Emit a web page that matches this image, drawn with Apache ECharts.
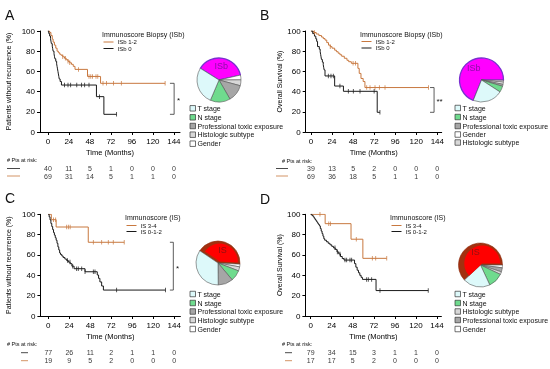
<!DOCTYPE html>
<html><head><meta charset="utf-8">
<script src="https://cdn.jsdelivr.net/npm/echarts@6/dist/echarts.min.js"></script>
<style>html,body{margin:0;padding:0;background:#fff}#c{width:550px;height:369px;will-change:transform}</style>
</head><body><div id="c"></div>
<script>
// ---------- shared ticks ----------
const months = [0, 24, 48, 72, 96, 120, 144];

// ---------- Panel A : ISb, recurrence ----------
const A_hi_t = [0, 2, 3.5, 5, 6, 7.5, 9, 10.5, 12, 13.5, 15, 17, 19, 21, 23, 25, 27, 29, 31, 45.3, 60.2, 134];
const A_hi_s = [100, 98.5, 95.5, 92, 89, 86, 83, 80, 78.5, 77, 76, 74.5, 73, 71.5, 70, 68.5, 67, 65, 62, 55, 48.2, 48.2];
const A_hi_c = [17, 20, 23, 25, 35, 47, 49, 51, 55, 57, 63, 67, 75, 84, 134];
const A_lo_t = [0, 1, 2, 3, 3.5, 4, 5, 5.5, 6, 7, 7.5, 8, 9, 10, 10.5, 11, 11.5, 12, 12.5, 13, 14, 15.5, 55.5, 64, 78.5];
const A_lo_s = [100, 97.5, 95, 92.5, 90, 87.5, 85, 82.5, 80, 77.5, 75, 72.5, 70, 67.5, 65, 62.5, 60, 57.5, 55, 52.5, 50, 46.5, 35, 17.5, 17.5];
const A_lo_c = [19, 23, 26, 33, 38.5, 42, 47, 59, 78.5];
const riskA_1 = [40, 11, 5, 1, 0, 0, 0];
const riskA_2 = [69, 31, 14, 5, 1, 1, 0];
const pieA_names = ['ISb', 'Gender', 'Histologic subtype', 'Professional toxic exposure', 'N stage', 'T stage'];
const pieA_values = [37.5, 3.5, 4.3, 12.5, 14.7, 27.5];
const legA = ['T stage', 'N stage', 'Professional toxic exposure', 'Histologic subtype', 'Gender'];

// ---------- Panel B : ISb, overall survival ----------
const B_hi_t = [0, 3, 6, 9, 12, 14, 16, 18, 20, 22, 24, 27, 29, 31, 33, 35, 38, 41, 43, 46, 53.5, 55, 57, 59.5, 61.5, 134];
const B_hi_s = [100, 98.5, 97, 95.5, 94, 92.5, 91, 88.5, 86, 84.5, 83, 81, 79.5, 78, 76.5, 75, 73, 71, 69.6, 68, 63, 58, 53, 50, 44, 44];
const B_hi_c = [4, 22, 48, 50.7, 63.5, 67.3, 73, 78, 84.4, 134];
const B_lo_t = [0, 2, 4, 5.5, 6.5, 7.5, 9.5, 10.5, 11, 11.5, 12, 13, 14, 14.5, 15, 16, 27, 37, 75.5, 78.6];
const B_lo_s = [100, 97.4, 94.9, 92.3, 89.7, 84.6, 82, 79.5, 76.9, 74.4, 71.8, 69.2, 66.7, 64.1, 61.5, 55.5, 45.5, 40.3, 19.5, 19.5];
const B_lo_c = [19.8, 22.8, 25.5, 33, 42.6, 48.3, 55.9, 72, 78.6];
const riskB_1 = [39, 13, 5, 2, 0, 0, 0];
const riskB_2 = [69, 36, 18, 5, 1, 1, 0];
const pieB_names = ['ISb', 'Histologic subtype', 'Gender', 'Professional toxic exposure', 'N stage', 'T stage'];
const pieB_values = [69, 1.5, 1.5, 1.5, 4.5, 22];
const legB = ['T stage', 'N stage', 'Professional toxic exposure', 'Gender', 'Histologic subtype'];

// ---------- Panel C : IS, recurrence ----------
const C_hi_t = [0, 3.5, 9, 45.7, 86.8];
const C_hi_s = [100, 94.7, 87.5, 72.5, 72.5];
const C_hi_c = [6, 8.4, 21, 23, 25, 51.5, 61, 68.6, 74.3, 86.8];
const C_lo_t = [0, 1, 2, 3, 4, 5, 6, 7, 8, 9, 10, 11, 12, 13, 14, 15.5, 17, 19, 21, 23, 25, 27, 29.5, 42, 56, 57.5, 59, 61, 63, 134];
const C_lo_s = [100, 97.5, 94.5, 91, 88, 85, 82, 79.5, 77, 74.5, 71.5, 68, 65, 62, 60.5, 59, 57.5, 56, 54.5, 53, 51.5, 49, 46.5, 43.5, 40.3, 37, 33.5, 29.5, 25.5, 25.5];
const C_lo_c = [22, 24.8, 27.9, 32.4, 34.3, 38.2, 42, 51.5, 53.4, 78.1, 134];
const riskC_1 = [77, 26, 11, 2, 1, 1, 0];
const riskC_2 = [19, 9, 5, 2, 0, 0, 0];
const pieC_names = ['IS', 'Gender', 'Histologic subtype', 'N stage', 'Professional toxic exposure', 'T stage'];
const pieC_values = [41.4, 2, 3, 8, 11, 34.6];
const legC = ['T stage', 'N stage', 'Professional toxic exposure', 'Histologic subtype', 'Gender'];

// ---------- Panel D : IS, overall survival ----------
const D_hi_t = [0, 16.5, 46, 59.5, 86.7];
const D_hi_s = [100, 90.8, 75.5, 56.7, 56.7];
const D_hi_c = [10.6, 20.6, 22.5, 52, 70.3, 74.1, 86.7];
const D_lo_t = [0, 1.5, 3, 4, 5, 6, 7, 8, 9, 10, 11, 12, 13, 14, 15, 16, 18, 20, 22, 24, 26, 28, 30, 32, 34, 36, 38, 50, 51.5, 53, 54.5, 56, 57.5, 59, 74.5, 134];
const D_lo_s = [100, 98.7, 97.5, 96.2, 94.9, 93.7, 92.4, 91.1, 89.9, 88.6, 86, 83.5, 81, 78.5, 76, 74.5, 73, 71.5, 70, 68.5, 67, 65.5, 63, 61, 58.5, 56.5, 55, 51.5, 48, 45, 42.5, 40, 38, 36, 25, 25];
const D_lo_c = [27.7, 30.4, 33.4, 39.1, 41, 44.8, 46.7, 63.8, 65.7, 69.5, 79, 134];
const riskD_1 = [79, 34, 15, 3, 1, 1, 0];
const riskD_2 = [17, 17, 5, 2, 0, 0, 0];
const pieD_names = ['IS', 'Gender', 'Professional toxic exposure', 'Histologic subtype', 'N stage', 'T stage'];
const pieD_values = [62, 2, 3, 2, 11, 20];
const legD = ['T stage', 'N stage', 'Histologic subtype', 'Professional toxic exposure', 'Gender'];

// ---------- styles ----------
const FONT = 'Liberation Sans, Arial, Helvetica, sans-serif';
const ORANGE = '#C8783F';
const BLACK = '#1a1a1a';
const sliceColors = {
  'T stage': '#DDF9FA', 'N stage': '#6FDB8E', 'Professional toxic exposure': '#A6A6A6',
  'Histologic subtype': '#D8D8D8', 'Gender': '#FFFFFF', 'ISb': '#FF00FF', 'IS': '#A3300F'
};

function survAt(ts, ss, t) { let v = ss[0]; for (let i = 0; i < ts.length; i++) { if (ts[i] <= t) v = ss[i]; } return v; }
const last = a => a[a.length - 1];

const panels = [
  { grid: {left: 40, top: 31, width: 140, height: 101}, xmin: -9, xmax: 151, yName: 'Patients without recurrence (%)', yGap: 28,
    hi: [A_hi_t, A_hi_s, A_hi_c], lo: [A_lo_t, A_lo_s, A_lo_c], risk: [riskA_1, riskA_2], riskTop: 164,
    bracket: {x0: 139.5, x1: 144.3} },
  { grid: {left: 305.7, top: 31, width: 136, height: 101}, xmin: -6, xmax: 149, yName: 'Overall Survival (%)', yGap: 22,
    hi: [B_hi_t, B_hi_s, B_hi_c], lo: [B_lo_t, B_lo_s, B_lo_c], risk: [riskB_1, riskB_2], riskTop: 164,
    bracket: {x0: 135.7, x1: 140.3} },
  { grid: {left: 40.4, top: 214.3, width: 140, height: 101.7}, xmin: -9, xmax: 151, yName: 'Patients without recurrence (%)', yGap: 28,
    hi: [C_hi_t, C_hi_s, C_hi_c], lo: [C_lo_t, C_lo_s, C_lo_c], risk: [riskC_1, riskC_2], riskTop: 348.7,
    bracket: {x0: 139, x1: 142.9} },
  { grid: {left: 305.4, top: 214.3, width: 136, height: 101.7}, xmin: -6, xmax: 149, yName: 'Overall Survival (%)', yGap: 22,
    hi: [D_hi_t, D_hi_s, D_hi_c], lo: [D_lo_t, D_lo_s, D_lo_c], risk: [riskD_1, riskD_2], riskTop: 348.7,
    bracket: null }
];

const grid = [], xAxis = [], yAxis = [], series = [];
panels.forEach((p, i) => {
  grid.push(Object.assign({containLabel: false}, p.grid));
  xAxis.push({
    type: 'value', gridIndex: i, min: p.xmin, max: p.xmax,
    axisLine: {show: true, onZero: false, lineStyle: {color: '#000', width: 1}},
    axisTick: {show: true, customValues: months, length: 3, lineStyle: {color: '#000', width: 1}},
    axisLabel: {customValues: months, fontSize: 8, color: '#000', margin: 5, fontFamily: FONT},
    splitLine: {show: false},
    name: 'Time (Months)', nameLocation: 'middle', nameGap: 16,
    nameTextStyle: {fontSize: 7.5, color: '#000', fontFamily: FONT}
  });
  yAxis.push({
    type: 'value', gridIndex: i, min: 0, max: 100, interval: 20,
    axisLine: {show: true, onZero: false, lineStyle: {color: '#000', width: 1}},
    axisTick: {show: true, length: 3, lineStyle: {color: '#000', width: 1}},
    axisLabel: {fontSize: 8, color: '#000', margin: 5, fontFamily: FONT},
    splitLine: {show: false},
    name: p.yName, nameLocation: 'middle', nameGap: p.yGap,
    nameTextStyle: {fontSize: 7, color: '#000', fontFamily: FONT}
  });
  [[p.hi, ORANGE], [p.lo, BLACK]].forEach(([c, col]) => {
    series.push({
      type: 'line', xAxisIndex: i, yAxisIndex: i, step: 'end', symbol: 'none', silent: true,
      data: c[0].map((t, k) => [t, c[1][k]]), lineStyle: {color: col, width: 1}, z: 3
    });
    series.push({
      type: 'scatter', xAxisIndex: i, yAxisIndex: i, symbol: 'rect', symbolSize: [0.9, 4.5], silent: true,
      data: c[2].map(t => [t, survAt(c[0], c[1], t)]), itemStyle: {color: col}, z: 4
    });
  });
  if (p.bracket) {
    const top = last(p.hi[1]), bot = last(p.lo[1]);
    series.push({
      type: 'line', xAxisIndex: i, yAxisIndex: i, symbol: 'none', silent: true,
      data: [[p.bracket.x0, top], [p.bracket.x1, top], [p.bracket.x1, bot], [p.bracket.x0, bot]],
      lineStyle: {color: '#333', width: 0.8}
    });
  }
});
// risk table grids
panels.forEach((p, i) => {
  const gi = 4 + i;
  grid.push({left: p.grid.left, width: p.grid.width, top: p.riskTop, height: 16});
  xAxis.push({type: 'value', gridIndex: gi, min: p.xmin, max: p.xmax, show: false});
  yAxis.push({type: 'value', gridIndex: gi, min: 0, max: 2, show: false});
  [[p.risk[0], 1.5], [p.risk[1], 0.5]].forEach(([row, yv]) => {
    series.push({
      type: 'scatter', xAxisIndex: gi, yAxisIndex: gi, symbolSize: 1, silent: true,
      itemStyle: {color: 'rgba(0,0,0,0)'},
      data: months.map((m, j) => [m, yv, row[j]]),
      label: {show: true, position: 'inside', formatter: q => String(q.value[2]), fontSize: 7, color: '#000', fontFamily: FONT}
    });
  });
});

// pies
function pieItems(names, values, isLabelOnly, transparentExceptKey, keyColor) {
  return names.map((n, k) => {
    const key = (n === 'ISb' || n === 'IS');
    let style;
    if (transparentExceptKey) {
      style = key ? {color: keyColor, borderWidth: 0} : {color: 'rgba(0,0,0,0)', borderWidth: 0};
    } else if (isLabelOnly) {
      style = {color: 'rgba(0,0,0,0)', borderWidth: 0};
    } else {
      style = {color: sliceColors[n], borderColor: n === 'ISb' ? '#7A2FD0' : (n === 'IS' ? '#8A2A0C' : '#555'), borderWidth: n === 'ISb' ? 1.3 : 0.6};
    }
    return {
      name: n, value: values[k], itemStyle: style,
      label: (isLabelOnly && key) ? {show: true, position: 'inside', formatter: '{b}', fontSize: 9, fontFamily: FONT,
        color: n === 'ISb' ? '#8B0FA8' : '#8E1010'} : {show: false}
    };
  });
}
const pies = [
  {c: [219, 80], sa: 148, names: pieA_names, values: pieA_values, inner: false},
  {c: [481.5, 80], sa: 248, names: pieB_names, values: pieB_values, inner: false},
  {c: [218, 263], sa: 146, names: pieC_names, values: pieC_values, inner: true},
  {c: [480.5, 265], sa: 223, names: pieD_names, values: pieD_values, inner: true}
];
pies.forEach(pp => {
  const base = {type: 'pie', radius: [0, 22], startAngle: pp.sa, clockwise: true, silent: true,
    avoidLabelOverlap: false, labelLine: {show: false}, emphasis: {disabled: true}, minAngle: 0};
  series.push(Object.assign({}, base, {center: pp.c, z: 2, data: pieItems(pp.names, pp.values, false, false)}));
  if (pp.inner) {
    series.push(Object.assign({}, base, {center: [pp.c[0] + 1.8, pp.c[1] - 1.5], radius: [0, 18], z: 3,
      data: pieItems(pp.names, pp.values, false, true, '#FF0000')}));
  }
  series.push(Object.assign({}, base, {center: pp.c, z: 4, data: pieItems(pp.names, pp.values, true, false)}));
});

// graphic: legends, letters, risk keys, stars
const g = [];
function txt(x, y, s, size, opts) {
  g.push(Object.assign({type: 'text', x: x, y: y, silent: true,
    style: Object.assign({text: s, fontSize: size, fontFamily: FONT, fill: '#111', verticalAlign: 'middle', align: 'left'}, opts || {})}));
}
function ln(x1, y1, x2, y2, col, w) {
  g.push({type: 'line', silent: true, shape: {x1, y1, x2, y2}, style: {stroke: col, lineWidth: w || 1}});
}
// panel letters
txt(5, 15, 'A', 14); txt(260, 15, 'B', 14); txt(5, 198, 'C', 14); txt(260, 199, 'D', 14);
// KM legends
const kmLeg = [
  {x: 102, ty: 34, y1: 42, y2: 48.5, title: 'Immunoscore Biopsy (ISb)', n1: 'ISb 1-2', n2: 'ISb 0'},
  {x: 360, ty: 34, y1: 41.5, y2: 48, title: 'Immunoscore Biopsy (ISb)', n1: 'ISb 1-2', n2: 'ISb 0'},
  {x: 125, ty: 217.5, y1: 225.5, y2: 231.5, title: 'Immunoscore (IS)', n1: 'IS 3-4', n2: 'IS 0-1-2'},
  {x: 390, ty: 217.5, y1: 225.5, y2: 231.5, title: 'Immunoscore (IS)', n1: 'IS 3-4', n2: 'IS 0-1-2'}
];
kmLeg.forEach(l => {
  txt(l.x, l.ty, l.title, 7);
  ln(l.x + 1.5, l.y1, l.x + 11.5, l.y1, ORANGE, 1);
  ln(l.x + 1.5, l.y2, l.x + 11.5, l.y2, BLACK, 1);
  txt(l.x + 15.5, l.y1, l.n1, 6);
  txt(l.x + 15.5, l.y2, l.n2, 6);
});
// stars
txt(178.5, 100, '*', 8, {align: 'center'});
txt(439.5, 101, '**', 8, {align: 'center'});
txt(177.5, 268, '*', 8, {align: 'center'});
// pie legends
const pieLeg = [
  {x: 190, ys: [108.3, 117.3, 126, 134.7, 143.7], names: legA},
  {x: 455, ys: [108, 117, 126, 134.5, 142.5], names: legB},
  {x: 190, ys: [294, 303, 311.5, 320, 329], names: legC},
  {x: 455, ys: [294, 303, 311.5, 320, 329], names: legD}
];
pieLeg.forEach(pl => {
  pl.names.forEach((n, k) => {
    g.push({type: 'rect', silent: true, shape: {x: pl.x, y: pl.ys[k] - 2.75, width: 5.5, height: 5.5},
      style: {fill: sliceColors[n], stroke: '#333', lineWidth: 0.7}});
    txt(pl.x + 7.5, pl.ys[k], n, 7);
  });
});
// risk table headers and keys
const riskKeys = [
  {x: 7, hy: 160, lx1: 7, lx2: 20, y1: 168.5, y2: 176},
  {x: 282, hy: 161, lx1: 276, lx2: 288, y1: 168.5, y2: 176},
  {x: 7, hy: 344.3, lx1: 21, lx2: 28, y1: 352.7, y2: 360.7},
  {x: 282, hy: 344.3, lx1: 285, lx2: 292, y1: 352.7, y2: 360.7}
];
riskKeys.forEach(r => {
  txt(r.x, r.hy, '# Pts at risk:', 5.5);
  ln(r.lx1, r.y1, r.lx2, r.y1, BLACK, 0.8);
  ln(r.lx1, r.y2, r.lx2, r.y2, ORANGE, 0.8);
});

const chart = echarts.init(document.getElementById('c'), null, {renderer: 'svg', width: 550, height: 369});
chart.setOption({
  animation: false, backgroundColor: '#fff',
  textStyle: {fontFamily: FONT},
  grid, xAxis, yAxis, series, graphic: g
});
</script>
</body></html>
